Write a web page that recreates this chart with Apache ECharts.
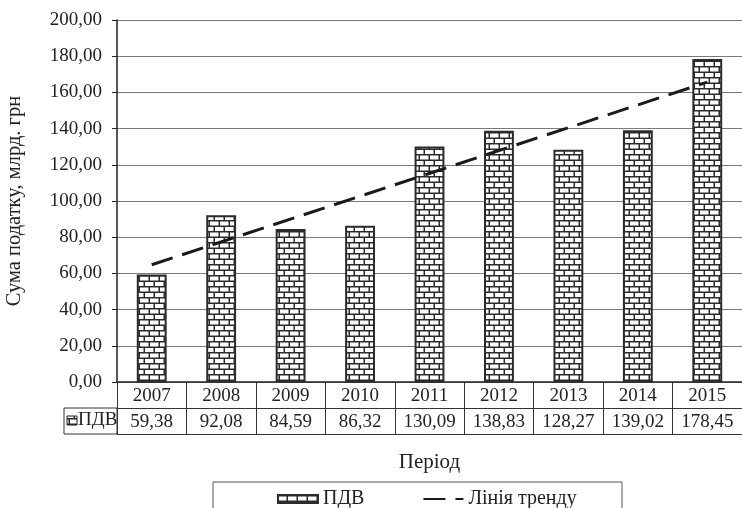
<!DOCTYPE html>
<html lang="uk">
<head>
    <meta charset="utf-8">
    <script src="https://cdn.jsdelivr.net/npm/echarts@6/dist/echarts.min.js"></script>
    <title>pdv_chart</title>
</head>
<body>
<style>
    html, body, #main {
        width: 742px;
        height: 508px;
        margin: 0;
        background: #fff;
    }
</style>
<div id='main'></div>
<script>
    var years = ['2007', '2008', '2009', '2010', '2011', '2012', '2013', '2014', '2015'];
    var pdvValues = [59.38, 92.08, 84.59, 86.32, 130.09, 138.83, 128.27, 139.02, 178.45];
    // кінці лінії тренду
    var trendYears = ['2007', '2015'];
    var trendValues = [64.8, 165.7];

    var font = 'Liberation Serif';
    var fs = 19;

    function fmt(v) {
        return v.toFixed(2).replace('.', ',');
    }

    // цегляний візерунок
    function brick() {
        var c = document.createElement('canvas');
        c.width = 10;
        c.height = 11;
        var ctx = c.getContext('2d');
        ctx.fillStyle = '#2b2b2b';
        ctx.fillRect(0, 0, 10, 11);
        ctx.fillStyle = '#ffffff';
        ctx.fillRect(0, 1.5, 8.5, 4);
        ctx.fillRect(0, 7, 3.5, 4);
        ctx.fillRect(5, 7, 5, 4);
        return c;
    }
    var brickFill = {image: brick(), repeat: 'repeat'};

    var chart = echarts.init(document.getElementById('main'));
    var option = {
        animation: false,
        grid: {left: 117, right: 0, top: 20, bottom: 126, outerBoundsMode: 'none'},
        legend: {
            left: 272,
            top: 484,
            itemWidth: 40,
            itemHeight: 8,
            itemGap: 58,
            textStyle: {fontFamily: font, fontSize: 20, color: '#222'},
            data: [
                {name: 'ПДВ', icon: 'rect'},
                {name: 'Лінія тренду', itemStyle: {opacity: 0}}
            ]
        },
        xAxis: [{
            type: 'category',
            data: years,
            axisLine: {lineStyle: {color: '#222', width: 1.5}},
            axisTick: {show: true, length: 52, lineStyle: {color: '#333'}},
            axisLabel: {fontFamily: font, fontSize: fs, color: '#222', margin: 5}
        }, {
            type: 'category',
            data: years,
            position: 'bottom',
            offset: 26,
            axisLine: {lineStyle: {color: '#333'}},
            axisTick: {show: false},
            axisLabel: {
                fontFamily: font, fontSize: fs, color: '#222', margin: 5,
                formatter: function (v, i) { return fmt(pdvValues[i]); }
            }
        }, {
            type: 'category',
            data: years,
            position: 'bottom',
            offset: 52,
            axisLine: {lineStyle: {color: '#333'}},
            axisTick: {show: false},
            axisLabel: {show: false},
            name: 'Період',
            nameLocation: 'middle',
            nameGap: 18,
            nameTextStyle: {fontFamily: font, fontSize: 21, color: '#222'}
        }],
        yAxis: {
            type: 'value',
            min: 0,
            max: 200,
            interval: 20,
            name: 'Сума податку, млрд. грн',
            nameLocation: 'middle',
            nameGap: 92,
            nameTextStyle: {fontFamily: font, fontSize: 20.5, color: '#222'},
            axisLine: {show: true, lineStyle: {color: '#222', width: 1.5}},
            axisTick: {show: true, length: 5, lineStyle: {color: '#222'}},
            axisLabel: {
                fontFamily: font, fontSize: fs, color: '#222', margin: 15,
                formatter: function (v) { return fmt(v); }
            },
            splitLine: {lineStyle: {color: '#7a7a7a', width: 1.2}}
        },
        graphic: [{
            type: 'rect',
            shape: {x: 64, y: 408, width: 53, height: 26},
            style: {fill: 'none', stroke: '#333', lineWidth: 1}
        }, {
            type: 'rect',
            shape: {x: 67, y: 416, width: 10, height: 9},
            style: {fill: brickFill, stroke: '#222', lineWidth: 1}
        }, {
            type: 'text',
            left: 78,
            top: 411,
            style: {text: 'ПДВ', fontFamily: font, fontSize: fs, fill: '#222'}
        }, {
            type: 'rect',
            shape: {x: 213, y: 482, width: 409, height: 40},
            style: {fill: 'none', stroke: '#555', lineWidth: 1}
        }],
        series: [{
            name: 'ПДВ',
            type: 'bar',
            barWidth: '43%',
            data: pdvValues,
            itemStyle: {color: brickFill, borderColor: '#2b2b2b', borderWidth: 2}
        }, {
            name: 'Лінія тренду',
            type: 'line',
            symbol: 'none',
            z: 5,
            color: '#1a1a1a',
            data: trendYears.map(function (y, i) { return [y, trendValues[i]]; }),
            lineStyle: {color: '#1a1a1a', width: 3, type: [22, 10]}
        }]
    };
    chart.setOption(option);
</script>
</body>
</html>
